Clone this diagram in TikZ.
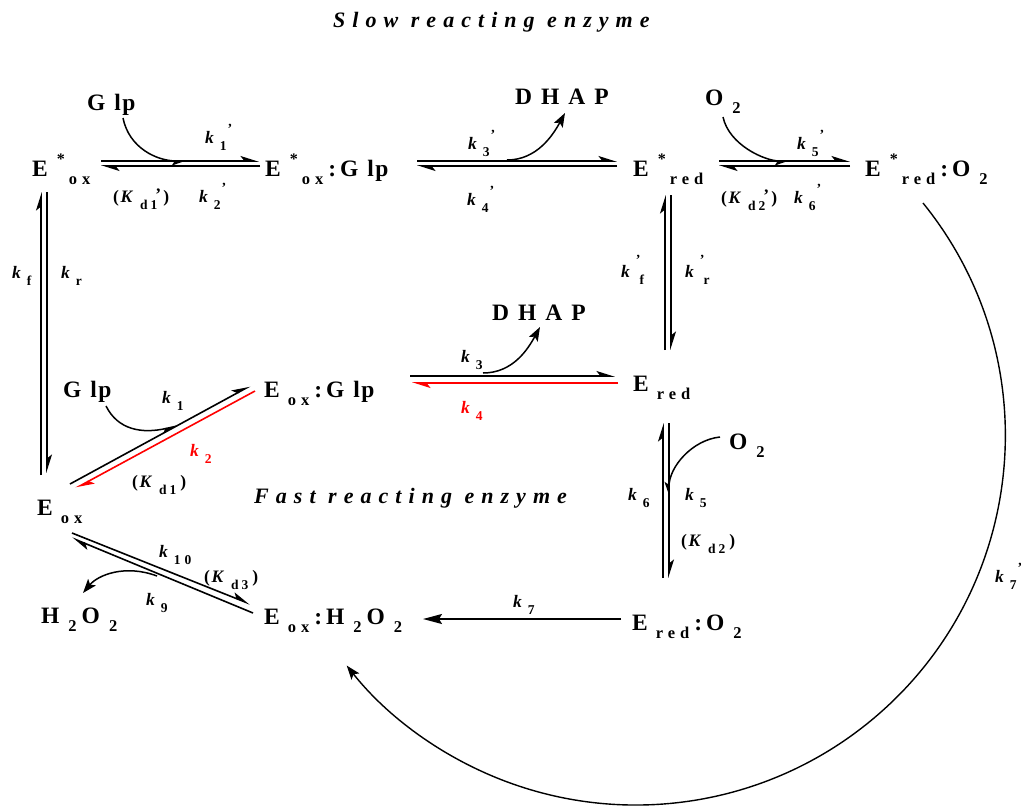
\documentclass[tikz,border=0pt]{standalone}
\usepackage{fontspec}
\usepackage{xcolor}
\usepackage{tikz}
\setmainfont{Liberation Serif}
\newfontfamily\spacedfont[LetterSpace=30]{Liberation Serif}
\newfontfamily\titlefont[LetterSpace=32]{Liberation Serif}
\usetikzlibrary{
	arrows.meta,
	calc
}
\newcommand{\subs}[1]{\raisebox{-8pt}{\spacedfont\bfseries\fontsize{16.5}{16.5}\selectfont #1}}
\newcommand{\two}{\kern9pt\raisebox{-8pt}{\fontsize{16.5}{16.5}\selectfont 2}}
\newcommand{\oxy}{O\two}
\newcommand{\hper}{H\two\kern5pt\oxy}
\newcommand{\glp}{G\kern9pt l\kern1.5pt p}
\newcommand{\dhap}{D\kern9pt H\kern9pt A\kern9pt P}
\newcommand{\estar}[1]{E\kern9pt\raisebox{12pt}{\fontsize{16}{16}\selectfont *}\kern4pt\subs{#1}}
\newcommand{\eplain}[1]{E\kern8pt\subs{#1}}
\newcommand{\colonsep}{\kern5pt:\kern4pt}
\newcommand{\rsub}[1]{\raisebox{-7pt}{\spacedfont\bfseries\upshape\fontsize{13.5}{13.5}\selectfont #1}}
\newcommand{\kk}[1]{k\kern6pt\rsub{#1}}
\newcommand{\kp}[1]{\kk{#1}\kern1pt\raisebox{10pt}{\fontsize{14}{14}\selectfont\upshape '}}
\newcommand{\kq}[1]{k\kern6pt\raisebox{13pt}{\fontsize{14}{14}\selectfont\upshape '}\kern-1pt\rsub{#1}}
\newcommand{\kd}[2]{{\upshape(}\kern1.5pt K\kern8pt\rsub{d\kern3pt #1}#2\kern4pt{\upshape)}}

\begin{document}
\begin{tikzpicture}[x=1pt, y=-1pt,
	species/.style={anchor=base west, inner sep=0pt, font=\bfseries\fontsize{23.5}{23.5}\selectfont},
	rate/.style={anchor=base west, inner sep=0pt, font=\bfseries\itshape\fontsize{17.5}{17.5}\selectfont},
	heading/.style={anchor=base west, inner sep=0pt, font=\titlefont\bfseries\itshape\fontsize{22}{22}\selectfont},
	half/.style={line width=1.6pt, -{Stealth[harpoon, length=16pt, width=10pt, inset=4pt]}},
	halfred/.style={half, red},
	bent/.style={line width=1.5pt, -{Stealth[length=14pt, width=10pt, inset=3pt]}},
	benthalf/.style={line width=1.5pt, -{Stealth[harpoon, swap, length=13pt, width=9pt, inset=3pt]}},
	full/.style={line width=1.6pt, -{Stealth[length=19pt, width=10pt, inset=3pt]}}
]
	\useasboundingbox (0,0) rectangle (1021,807);
	\node[heading] (slow) at (333,27) {Slow reacting enzyme};
	\node[heading] (fast) at (254,503) {Fast reacting enzyme};

	\node[species] (Esox) at (32,176) {\estar{ox}};
	\node[species] (Esoxglp) at (265,176) {\estar{ox}\colonsep\glp};
	\node[species] (Esred) at (633,176) {\estar{red}};
	\node[species] (Esredo) at (865,176) {\estar{red}\colonsep\oxy};
	\node[species] (Glpa) at (87,110) {\glp};
	\node[species] (Dhapa) at (515,104) {\dhap};
	\node[species] (Oa) at (705,105) {\oxy};
	\node[species] (Eox) at (37,515) {\eplain{ox}};
	\node[species] (Eoxglp) at (264,397) {\eplain{ox}\colonsep\glp};
	\node[species] (Ered) at (633,391) {\eplain{red}};
	\node[species] (Glpb) at (63,397) {\glp};
	\node[species] (Dhapb) at (492,320) {\dhap};
	\node[species] (Ob) at (729,449) {\oxy};
	\node[species] (Eoxh) at (264,624) {\eplain{ox}\colonsep\hper};
	\node[species] (Ho) at (41,623) {\hper};
	\node[species] (Eredo) at (632,630) {\eplain{red}\colonsep\oxy};

	\foreach \n/\x/\y/\t in {a/205/143/1,b/199/202/2,c/468/149/3,d/467/205/4,e/797/149/5,f/794/203/6,g/995/582/7}
		\node[rate] (kp\n) at (\x,\y) {\kp{\t}};
	\foreach \n/\x/\y/\t in {a/162/403/1,c/461/362/3,e/685/500/5,f/628/500/6,g/513/607/7,h/146/605/9,i/159/557/10,r/61/278/r}
		\node[rate] (k\n) at (\x,\y) {\kk{\t}};
	\node[rate] (kf) at (12,278) {\kk{f}};
	\node[rate, red] (kb) at (190,456) {\kk{2}};
	\node[rate, red] (kd) at (461,413) {\kk{4}};
	\node[rate] (kpf) at (621,277) {\kq{f}};
	\node[rate] (kpr) at (685,277) {\kq{r}};
	\node[rate] (Kda) at (113,202) {\kd{1}{\kern-2pt\raisebox{2pt}{\upshape '}\kern-2pt}};
	\node[rate] (Kdb) at (721,203) {\kd{2}{\kern-2pt\raisebox{2pt}{\upshape '}\kern-2pt}};
	\node[rate] (Kdc) at (132,487) {\kd{1}{}};
	\node[rate] (Kdd) at (681,546) {\kd{2}{}};
	\node[rate] (Kde) at (204,582) {\kd{3}{}};

	\draw[half] ([shift={(69,-15)}]Esox.base west) -- ([shift={(-6,-15)}]Esoxglp.base west);
	\draw[half] ([shift={(-5,-10)}]Esoxglp.base west) -- ([shift={(69,-10)}]Esox.base west);
	\draw[half] ([shift={(152,-15)}]Esoxglp.base west) -- ([shift={(-16,-15)}]Esred.base west);
	\draw[half] ([shift={(-16,-10)}]Esred.base west) -- ([shift={(152,-10)}]Esoxglp.base west);
	\draw[half] ([shift={(86,-15)}]Esred.base west) -- ([shift={(-15,-15)}]Esredo.base west);
	\draw[half] ([shift={(-15,-10)}]Esredo.base west) -- ([shift={(86,-10)}]Esred.base west);
	\draw[half] ([shift={(4,-40)}]Eox.base west) -- ([shift={(9,16)}]Esox.base west);
	\draw[half] ([shift={(15,16)}]Esox.base west) -- ([shift={(10,-42)}]Eox.base west);
	\draw[half] ([shift={(32,-41)}]Ered.base west) -- ([shift={(32,19)}]Esred.base west);
	\draw[half] ([shift={(38,19)}]Esred.base west) -- ([shift={(38,-41)}]Ered.base west);
	\draw[half] ([shift={(31,-52)}]Eredo.base west) -- ([shift={(30,32)}]Ered.base west);
	\draw[half] ([shift={(36,32)}]Ered.base west) -- ([shift={(37,-52)}]Eredo.base west);
	\draw[half] ([shift={(146,-21)}]Eoxglp.base west) -- ([shift={(-18,-15)}]Ered.base west);
	\draw[halfred] ([shift={(-15,-8)}]Ered.base west) -- ([shift={(148,-14)}]Eoxglp.base west);
	\draw[half] ([shift={(33,-31)}]Eox.base west) -- ([shift={(-14,-11)}]Eoxglp.base west);
	\draw[halfred] ([shift={(-9,-6)}]Eoxglp.base west) -- ([shift={(39,-27)}]Eox.base west);
	\draw[half] ([shift={(35,18)}]Eox.base west) -- ([shift={(-14,-20)}]Eoxh.base west);
	\draw[half] ([shift={(-11,-11)}]Eoxh.base west) -- ([shift={(35,23)}]Eox.base west);
	\draw[full] ([shift={(-11,-11)}]Eredo.base west) -- ([shift={(159,-5)}]Eoxh.base west);

	\draw[benthalf] ([shift={(36,8)}]Glpa.base west) .. controls +(6,30) and +(-30,0) .. ([shift={(-78,-15)}]Esoxglp.base west);
	\draw[bent] ([shift={(242,-16)}]Esoxglp.base west) .. controls +(30,0) and +(-12,22) .. ([shift={(50,9)}]Dhapa.base west);
	\draw[benthalf] ([shift={(18,12)}]Oa.base west) .. controls +(6,28) and +(-25,0) .. ([shift={(-75,-15)}]Esredo.base west);
	\draw[bent] ([shift={(219,-24)}]Eoxglp.base west) .. controls +(30,0) and +(-12,22) .. ([shift={(48,7)}]Dhapb.base west);
	\draw[benthalf] ([shift={(43,9)}]Glpb.base west) .. controls +(12,24) and +(-35,8) .. ([shift={(-87,29)}]Eoxglp.base west);
	\draw[benthalf] ([shift={(-9,-12)}]Ob.base west) .. controls +(-28,3) and +(0,-30) .. ([shift={(37,-133)}]Eredo.base west);
	\draw[bent] ([shift={(120,61)}]Eox.base west) .. controls +(-32,-12) and +(15,-18) .. ([shift={(42,-30)}]Ho.base west);
	\draw[bent, line width=1.4pt] ([shift={(58,27)}]Esredo.base west) arc[start angle=-39, end angle=141.5, radius=369.5];
\end{tikzpicture}
\end{document}
